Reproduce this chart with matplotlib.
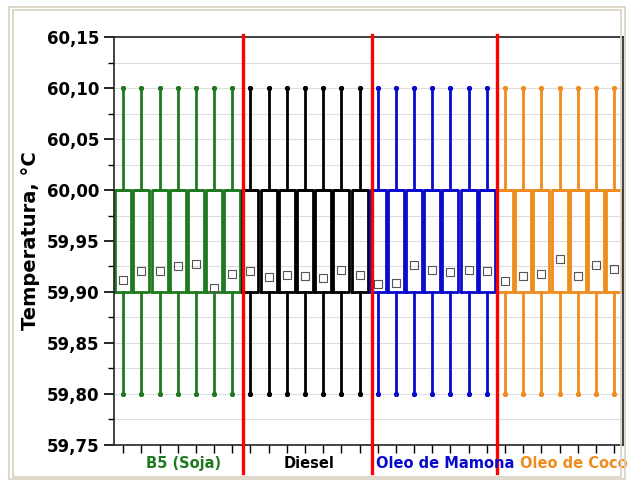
import matplotlib
matplotlib.use('Agg')
import matplotlib.pyplot as plt
import matplotlib.transforms as mtrans
from matplotlib.patches import Rectangle
from matplotlib.ticker import MultipleLocator, FuncFormatter

# data ##########################################################################
groups = ['B5 (Soja)', 'Diesel', 'Oleo de Mamona', 'Oleo de Coco']
group_colors = ['#1f7a1f', '#000000', '#0a0acc', '#f08c1e']
runs_per_group = 7

q1 = 59.90
q3 = 60.00
median = 60.00
whisker_low = 59.80
whisker_high = 60.10

means = [
    [59.912, 59.921, 59.921, 59.925, 59.927, 59.904, 59.918],   # B5 (Soja)
    [59.921, 59.915, 59.917, 59.916, 59.914, 59.922, 59.917],   # Diesel
    [59.908, 59.909, 59.926, 59.922, 59.920, 59.922, 59.921],   # Oleo de Mamona
    [59.911, 59.916, 59.918, 59.932, 59.916, 59.926, 59.923],   # Oleo de Coco
]

separators = [7.59, 14.68, 21.55]
label_x = [4.3, 11.2, 18.7, 25.8]

# plot ##########################################################################
fig = plt.figure(figsize=(6.34, 4.83), dpi=100)
ax = fig.add_axes([0.18, 0.079, 0.803, 0.844])

pos = 1
for g, color in enumerate(group_colors):
    stats = []
    positions = []
    for m in means[g]:
        stats.append(dict(q1=q1, q3=q3, med=median, mean=m,
                          whislo=whisker_low, whishi=whisker_high, fliers=[]))
        positions.append(pos)
        pos += 1
    ax.bxp(stats, positions=positions, widths=0.88, capwidths=0,
           showmeans=True, showfliers=False, patch_artist=False,
           boxprops=dict(color=color, linewidth=2.0),
           whiskerprops=dict(color=color, linewidth=2.0),
           capprops=dict(color=color, linewidth=0, marker='o', markersize=2.6),
           medianprops=dict(color=color, linewidth=2.0),
           meanprops=dict(marker='s', markersize=5.5, markerfacecolor='none',
                          markeredgecolor='#555555', markeredgewidth=0.8))

ax.set_xlim(0.5, 28.5)
ax.set_ylim(59.75, 60.15)
ax.set_xticks(range(1, 29))
ax.set_xticklabels([])
ax.yaxis.set_major_locator(MultipleLocator(0.05))
ax.yaxis.set_minor_locator(MultipleLocator(0.025))
ax.yaxis.set_major_formatter(FuncFormatter(lambda v, p: f'{v:.2f}'.replace('.', ',')))
ax.tick_params(axis='y', which='major', direction='out', length=7, width=1.2,
               labelsize=12)
ax.tick_params(axis='y', which='minor', direction='out', length=4, width=1.0)
ax.tick_params(axis='x', direction='out', length=6, width=1.0)
for lab in ax.get_yticklabels():
    lab.set_fontweight('bold')

ax.grid(True, which='both', axis='y', color='#dddddd', linewidth=0.8)
ax.set_axisbelow(True)
for sp in ax.spines.values():
    sp.set_linewidth(1.2)
    sp.set_color('#222222')

ax.set_ylabel('Temperatura, °C', fontsize=14, fontweight='bold', labelpad=5)

for x in separators:
    ax.axvline(x, ymin=-0.069, ymax=1.006, color='#ff0000', linewidth=2.4,
               clip_on=False, zorder=5)

trans = mtrans.blended_transform_factory(ax.transData, ax.transAxes)
for name, color, x in zip(groups, group_colors, label_x):
    ax.text(x, -0.045, name, transform=trans, ha='center', va='center',
            color=color, fontsize=10.5, fontweight='bold', zorder=6)

# beige frame around the figure
for inset, lw in [(0.014, 1.2), (0.020, 1.2)]:
    fig.patches.append(Rectangle((inset, inset * 0.6), 1 - 2 * inset, 1 - 1.6 * inset,
                                 transform=fig.transFigure, fill=False,
                                 edgecolor='#d8d2c0', linewidth=lw))

fig.savefig('out.png', dpi=100)
